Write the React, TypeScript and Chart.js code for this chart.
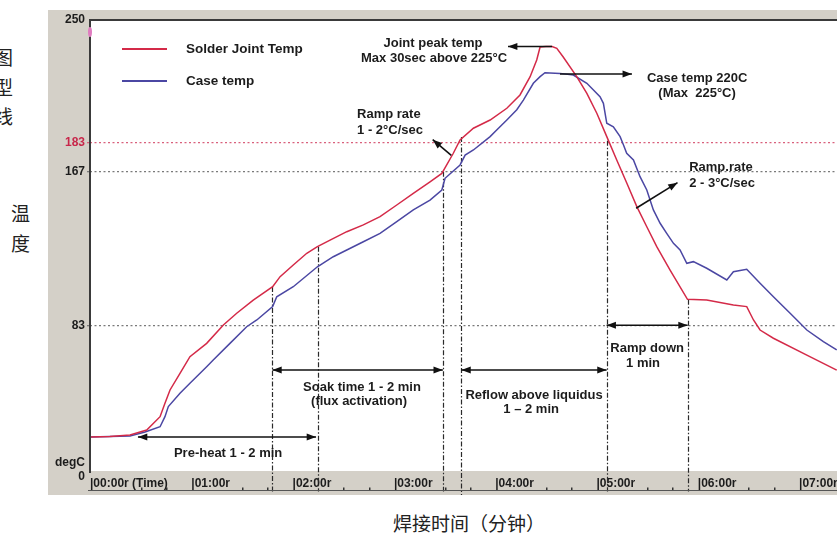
import React, { useEffect, useRef } from "react";
import { Chart, registerables } from "chart.js";

Chart.register(...registerables);

// ---------- data ----------
const seriesNames = ["Solder Joint Temp", "Case temp"];
const seriesColors = ["#d42a48", "#4b47a3"];

// time in seconds, temperature in degC
const solderTime = [0, 11.8, 23.7, 33.6, 41.5, 44.4, 47.4, 53.3, 59.2, 69.1, 79, 86.9, 96.7, 108.2, 112.6, 120.4, 128.4, 134.7, 142.2, 152.1, 161.9, 171.8, 181.7, 191.5, 201.4, 208.4, 215.2, 219.2, 227.1, 237, 246.9, 254.7, 260.7, 264.6, 266.6, 270.1, 273.7, 276.5, 280.2, 288.3, 294.3, 300.2, 306.1, 312, 318, 323.9, 329.8, 335.7, 343.6, 353.9, 365.3, 381.1, 389, 393, 396.9, 404.8, 424.6, 442.3];
const solderTemp = [21.9, 22.2, 23, 25.7, 33, 40.3, 47.6, 56.7, 65.8, 73.1, 83.2, 89.6, 96.8, 104.1, 109.6, 116, 122.4, 126, 129.6, 134.2, 137.9, 142.4, 148.8, 155.2, 161.5, 166.1, 177.1, 184.4, 190.8, 195.3, 201.7, 209, 219, 228.1, 235.2, 235.5, 235.5, 234.5, 229.9, 219, 209.9, 199, 186.2, 173.4, 160.7, 147.9, 136.9, 126, 113.2, 97.2, 96.8, 94.1, 93.2, 85.9, 80.4, 75.9, 66.7, 58.5];

const caseTime = [0, 11.8, 23.7, 32.6, 41.5, 44.4, 46.4, 53.3, 59.2, 69.1, 73, 82.9, 92.8, 98.8, 108.2, 110.6, 120.4, 134.7, 144.1, 152.1, 161.9, 171.8, 181.7, 191.5, 201.4, 208.4, 210.3, 219.2, 222.2, 227.1, 237, 240.9, 246.9, 252.8, 256.7, 262.6, 266.6, 269.5, 278.4, 286.3, 294.3, 302.1, 304.1, 306.1, 310, 314, 316, 317.9, 321.9, 325.8, 329.8, 333.7, 337.7, 341.6, 345.6, 349.5, 353.5, 357.4, 365.3, 377.2, 381.1, 389, 396.9, 404.8, 414.7, 424.6, 434.4, 442.3];
const caseTemp = [21.9, 22.2, 22.4, 24.6, 27.5, 33, 38.5, 45.8, 51.3, 60.3, 64, 73.1, 82.2, 85.9, 93.2, 98.6, 104.1, 115, 120.5, 124.2, 128.7, 133.3, 139.7, 146.1, 151.5, 157, 163.4, 170.7, 176.1, 178.9, 186.2, 189.8, 195.3, 200.9, 206.2, 215.4, 219, 221.2, 220.8, 219.9, 215.4, 208, 204.4, 193.5, 191.6, 186.2, 181.6, 177.1, 173.4, 164.3, 157, 146.1, 138.8, 133.3, 127.8, 124.2, 116.9, 117.8, 114.2, 107.8, 112.3, 113.6, 106, 98.6, 89.6, 80.4, 74, 69.5];

const yTickValues = [0, 83, 167, 183, 250];
const xTickSeconds = [0, 60, 120, 180, 240, 300, 360, 420];
const xTickLabels = ["00:00r (Time)", "01:00r", "02:00r", "03:00r", "04:00r", "05:00r", "06:00r", "07:00r"];

// phase boundaries (seconds) and the temperature where each marker line starts
const phaseMarkerTimes = [108, 135, 209, 220, 306, 354];
const phaseMarkerTops = [104, 126, 167, 186, 184, 97];

// ---------- annotations (data coordinates: seconds, degC) ----------
const arrows = [
  { from: [28.4, 21.9], to: [133.9, 21.9], both: true },
  { from: [108, 58.5], to: [209, 58.5], both: true },
  { from: [220, 58.5], to: [306, 58.5], both: true },
  { from: [306, 83], to: [354, 83], both: true },
  { from: [273.7, 235.5], to: [247.6, 235.5], both: false },
  { from: [278.4, 220.5], to: [321, 220.5], both: false },
  { from: [214, 176], to: [203, 184.5], both: false },
  { from: [323.5, 147], to: [348, 161], both: false },
];

const notes = [
  { text: "Joint peak temp", x: 203.2, y: 237.4, align: "center" },
  { text: "Max 30sec above 225°C", x: 203.8, y: 229.2, align: "center" },
  { text: "Case temp 220C", x: 359.6, y: 218.3, align: "center" },
  { text: "(Max  225°C)", x: 359.6, y: 210.1, align: "center" },
  { text: "Ramp rate", x: 158.2, y: 198.6, align: "left" },
  { text: "1 - 2°C/sec", x: 158.2, y: 189.8, align: "left" },
  { text: "Ramp.rate", x: 354.9, y: 169.6, align: "left" },
  { text: "2 - 3°C/sec", x: 354.9, y: 160.8, align: "left" },
  { text: "Soak time 1 - 2 min", x: 161.1, y: 49.2, align: "center" },
  { text: "(flux activation)", x: 159.4, y: 41.6, align: "center" },
  { text: "Reflow above liquidus", x: 263, y: 44.9, align: "center" },
  { text: "1 – 2 min", x: 261.3, y: 36.7, align: "center" },
  { text: "Ramp down", x: 330, y: 70.6, align: "center" },
  { text: "1 min", x: 327.6, y: 62.4, align: "center" },
  { text: "Pre-heat 1 - 2 min", x: 81.8, y: 13.1, align: "center" },
];

const FONT = '"Liberation Sans", Arial, Helvetica, sans-serif';
const PANEL = "#d4d0c8";
const INK = "#1c1c1c";

function head(ctx: CanvasRenderingContext2D, x1: number, y1: number, x2: number, y2: number) {
  const a = Math.atan2(y2 - y1, x2 - x1);
  const L = 10;
  const w = 0.36;
  ctx.beginPath();
  ctx.moveTo(x2, y2);
  ctx.lineTo(x2 - L * Math.cos(a - w), y2 - L * Math.sin(a - w));
  ctx.lineTo(x2 - L * Math.cos(a + w), y2 - L * Math.sin(a + w));
  ctx.closePath();
  ctx.fill();
}

const reflowPlugin = {
  id: "reflowDecor",
  beforeDraw(chart: any) {
    const { ctx, chartArea: a, width, height } = chart;
    ctx.save();
    ctx.fillStyle = PANEL;
    ctx.fillRect(0, 0, width, height);
    ctx.fillStyle = "#ffffff";
    ctx.fillRect(a.left, a.top, a.right - a.left, a.bottom - 6 - a.top);
    ctx.restore();
  },
  beforeDatasetsDraw(chart: any) {
    const { ctx } = chart;
    const xs = chart.scales.x;
    const ys = chart.scales.y;
    ctx.save();
    ctx.strokeStyle = "#2a2a2a";
    ctx.lineWidth = 1.2;
    ctx.setLineDash([5, 2, 1.5, 2]);
    phaseMarkerTimes.forEach((t, i) => {
      const px = Math.round(xs.getPixelForValue(t)) + 0.5;
      ctx.beginPath();
      ctx.moveTo(px, ys.getPixelForValue(phaseMarkerTops[i]));
      ctx.lineTo(px, ys.getPixelForValue(i === 3 ? -12 : -8));
      ctx.stroke();
    });
    ctx.restore();
  },
  afterDatasetsDraw(chart: any) {
    const { ctx, chartArea: a } = chart;
    const xs = chart.scales.x;
    const ys = chart.scales.y;
    ctx.save();
    // frame: top border and y axis line
    ctx.strokeStyle = "#3a3a3a";
    ctx.lineWidth = 2;
    ctx.beginPath();
    ctx.moveTo(a.left, a.top);
    ctx.lineTo(a.right, a.top);
    ctx.moveTo(a.left, a.top - 1);
    ctx.lineTo(a.left, a.bottom - 4);
    ctx.stroke();
    // x axis baseline
    const baseY = a.bottom + 13.5;
    ctx.strokeStyle = "#555";
    ctx.lineWidth = 1.2;
    ctx.beginPath();
    ctx.moveTo(a.left - 2, baseY);
    ctx.lineTo(a.right, baseY);
    ctx.stroke();
    ctx.fillStyle = "#333";
    for (let t = 15; t < 480; t += 15) {
      if (t % 60 === 0 || t % 60 === 15) continue;
      const px = xs.getPixelForValue(t);
      ctx.fillRect(Math.round(px), baseY - 3, 1.5, 2.5);
    }
    // pink marker on the axis
    ctx.fillStyle = "#e07cc0";
    ctx.beginPath();
    ctx.ellipse(a.left, a.top + 12, 2, 5, 0, 0, Math.PI * 2);
    ctx.fill();
    // degC label
    ctx.fillStyle = INK;
    ctx.font = `bold 12px ${FONT}`;
    ctx.textAlign = "right";
    ctx.textBaseline = "middle";
    ctx.fillText("degC", a.left - 5, ys.getPixelForValue(0) - 14);
    // legend
    const ds = chart.data.datasets;
    ds.forEach((d: any, i: number) => {
      const ly = a.top + 29 + i * 32;
      ctx.strokeStyle = d.borderColor;
      ctx.lineWidth = 2;
      ctx.beginPath();
      ctx.moveTo(a.left + 32, ly);
      ctx.lineTo(a.left + 77, ly);
      ctx.stroke();
      ctx.fillStyle = INK;
      ctx.font = `bold 13.5px ${FONT}`;
      ctx.textAlign = "left";
      ctx.fillText(d.label, a.left + 96, ly);
    });
    // arrows
    ctx.strokeStyle = "#111";
    ctx.fillStyle = "#111";
    ctx.lineWidth = 1.6;
    arrows.forEach((ar) => {
      const x1 = xs.getPixelForValue(ar.from[0]);
      const y1 = ys.getPixelForValue(ar.from[1]);
      const x2 = xs.getPixelForValue(ar.to[0]);
      const y2 = ys.getPixelForValue(ar.to[1]);
      ctx.beginPath();
      ctx.moveTo(x1, y1);
      ctx.lineTo(x2, y2);
      ctx.stroke();
      head(ctx, x1, y1, x2, y2);
      if (ar.both) head(ctx, x2, y2, x1, y1);
    });
    // texts
    ctx.fillStyle = INK;
    ctx.font = `bold 13px ${FONT}`;
    ctx.textBaseline = "middle";
    notes.forEach((n) => {
      ctx.textAlign = n.align as CanvasTextAlign;
      ctx.fillText(n.text, xs.getPixelForValue(n.x), ys.getPixelForValue(n.y));
    });
    ctx.restore();
  },
};

export default function App() {
  const ref = useRef<HTMLCanvasElement | null>(null);

  useEffect(() => {
    if (!ref.current) return;
    const chart = new Chart(ref.current, {
      type: "line",
      data: {
        datasets: [
          {
            label: seriesNames[0],
            data: solderTime.map((t, i) => ({ x: t, y: solderTemp[i] })),
            borderColor: seriesColors[0],
            borderWidth: 1.5,
            pointRadius: 0,
            tension: 0,
          },
          {
            label: seriesNames[1],
            data: caseTime.map((t, i) => ({ x: t, y: caseTemp[i] })),
            borderColor: seriesColors[1],
            borderWidth: 1.5,
            pointRadius: 0,
            tension: 0,
          },
        ],
      },
      options: {
        animation: false,
        responsive: false,
        devicePixelRatio: 1,
        layout: { padding: { top: 10, left: 0, right: 0, bottom: 0 } },
        plugins: { legend: { display: false }, tooltip: { enabled: false } },
        scales: {
          x: {
            type: "linear",
            min: 0,
            max: 478.6,
            afterBuildTicks: (s: any) => {
              s.ticks = xTickSeconds.map((v) => ({ value: v }));
            },
            afterFit: (s: any) => {
              s.height = 18;
            },
            ticks: {
              autoSkip: false,
              maxRotation: 0,
              align: "start",
              padding: -9,
              color: INK,
              font: { family: FONT, size: 12, weight: "bold" },
              callback: (_v: any, i: number) => "|" + xTickLabels[i],
            },
            grid: { display: false },
            border: { display: false },
          },
          y: {
            min: 0,
            max: 250,
            afterBuildTicks: (s: any) => {
              s.ticks = yTickValues.map((v) => ({ value: v }));
            },
            afterFit: (s: any) => {
              s.width = 42;
            },
            ticks: {
              padding: 2,
              color: (c: any) => (c.tick && c.tick.value === 183 ? "#c8264a" : INK),
              font: { family: FONT, size: 12, weight: "bold" },
            },
            grid: {
              tickLength: 3,
              lineWidth: 1.3,
              color: (c: any) => {
                const v = c.tick ? c.tick.value : -1;
                if (v === 183) return "#d9607c";
                if (v === 167 || v === 83) return "#7a7a7a";
                return "rgba(0,0,0,0)";
              },
            },
            border: { display: false, dash: [2, 2.5] },
          },
        },
      },
      plugins: [reflowPlugin],
    } as any);
    return () => chart.destroy();
  }, []);

  const cjk = '"Noto Sans CJK SC", "Noto Sans CJK JP", sans-serif';
  const side = (ch: string, left: number, top: number) => (
    <span
      key={ch + top}
      style={{ position: "absolute", left, top, fontSize: 19, lineHeight: "19px", fontFamily: cjk, color: "#222" }}
    >
      {ch}
    </span>
  );

  return (
    <div style={{ position: "absolute", left: 0, top: 0, width: 837, height: 540, overflow: "hidden", background: "#fff" }}>
      {side("图", -6, 47)}
      {side("型", -6, 77)}
      {side("线", -6, 106)}
      {side("温", 11, 203)}
      {side("度", 11, 233)}
      <span
        style={{ position: "absolute", left: 393, top: 513, fontSize: 19, lineHeight: "19px", fontFamily: cjk, color: "#222", whiteSpace: "nowrap" }}
      >
        焊接时间（分钟）
      </span>
      <canvas
        ref={ref}
        width={850}
        height={485}
        style={{ position: "absolute", left: 48, top: 10, width: 850, height: 485 }}
      />
    </div>
  );
}
